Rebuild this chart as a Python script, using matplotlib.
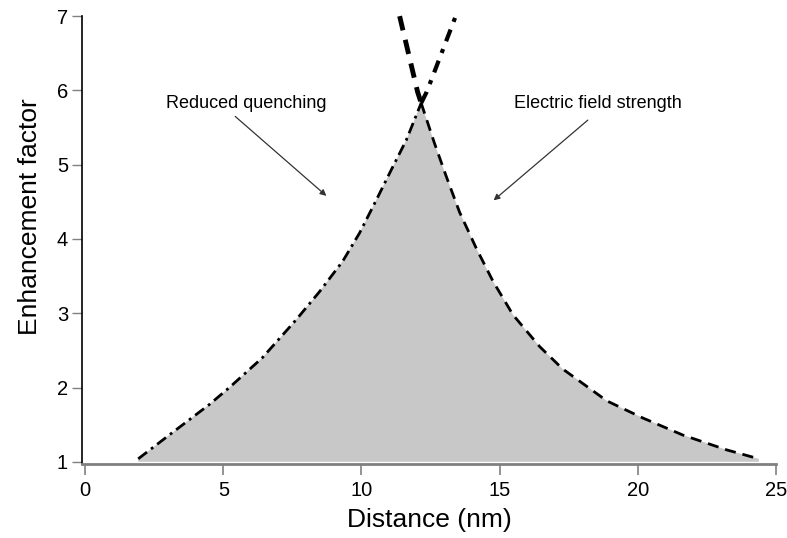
import numpy as np
import matplotlib
matplotlib.use('Agg')
import matplotlib.pyplot as plt

plt.rcParams['font.family'] = ['Liberation Sans', 'DejaVu Sans']

# reduced quenching curve (dash-dot)
quench_x = [1.92, 3.04, 4.49, 5.22, 6.41, 7.63, 8.48, 9.32, 9.93, 10.53, 11.13, 11.62, 12.16, 12.36, 13.41]
quench_y = [1.04, 1.36, 1.77, 2.00, 2.40, 2.91, 3.29, 3.70, 4.08, 4.52, 4.97, 5.33, 5.83, 5.98, 7.00]

# electric field strength curve (dashed)
field_x = [11.38, 12.03, 12.16, 12.64, 13.07, 13.55, 14.16, 14.76, 15.48, 16.45, 17.28, 18.88, 20.18, 21.63, 23.22, 24.38]
field_y = [7.00, 5.98, 5.83, 5.29, 4.84, 4.36, 3.87, 3.43, 2.98, 2.55, 2.25, 1.82, 1.59, 1.36, 1.16, 1.04]

cross = 12  # crossing point index in quench arrays
cross_f = 2  # same point in field arrays

fig = plt.figure(figsize=(7.87, 5.38), dpi=100)
ax = fig.add_axes([0.104, 0.1375, 0.882, 0.8325])

# shaded region under both curves
poly_x = [quench_x[0]] + quench_x[:cross + 1] + field_x[cross_f + 1:] + [field_x[-1]]
poly_y = [1.0] + quench_y[:cross + 1] + field_y[cross_f + 1:] + [1.0]
ax.fill(poly_x, poly_y, color='#c8c8c8', lw=0, zorder=1)

# lower parts (over the shading)
ax.plot(quench_x[:cross + 1], quench_y[:cross + 1], color='black', lw=2,
        dashes=(4, 1.8, 1, 1.8), zorder=3)
ax.plot(field_x[cross_f:], field_y[cross_f:], color='black', lw=2,
        dashes=(4, 2.5), zorder=3)
# upper parts, heavier
ax.plot(quench_x[cross:], quench_y[cross:], color='black', lw=3,
        dashes=(3, 2, 1, 2), zorder=3)
ax.plot(field_x[:cross_f + 1], field_y[:cross_f + 1], color='black', lw=3.5,
        dashes=(3, 2), zorder=3, clip_on=False)

ax.set_xlim(-0.12, 25)
ax.set_ylim(0.97, 7)
ax.set_xticks([0, 5, 10, 15, 20, 25])
ax.set_yticks([1, 2, 3, 4, 5, 6, 7])

for s in ['top', 'right']:
    ax.spines[s].set_visible(False)
ax.spines['left'].set_color('black')
ax.spines['left'].set_linewidth(1.2)
ax.spines['bottom'].set_color('#808080')
ax.spines['bottom'].set_linewidth(2)
ax.tick_params(axis='x', direction='out', length=8, width=1.2, color='#808080',
               labelsize=14.5, pad=4)
ax.tick_params(axis='y', direction='out', length=7, width=1, color='#808080',
               labelsize=14.5, pad=3)

ax.set_xlabel('Distance (nm)', fontsize=19, labelpad=6)
ax.set_ylabel('Enhancement factor', fontsize=19)
ax.yaxis.set_label_coords(-0.058, 0.553)

arrow = dict(arrowstyle='-|>', color='#333333', lw=0.9, mutation_scale=9,
             shrinkA=0, shrinkB=0)
ax.text(5.83, 5.83, 'Reduced quenching', ha='center', va='center', fontsize=13)
ax.annotate('', xy=(8.73, 4.58), xytext=(5.43, 5.65), arrowprops=arrow)
ax.text(18.55, 5.83, 'Electric field strength', ha='center', va='center', fontsize=13)
ax.annotate('', xy=(14.78, 4.52), xytext=(18.19, 5.60), arrowprops=arrow)

fig.savefig('out.png', dpi=100)
